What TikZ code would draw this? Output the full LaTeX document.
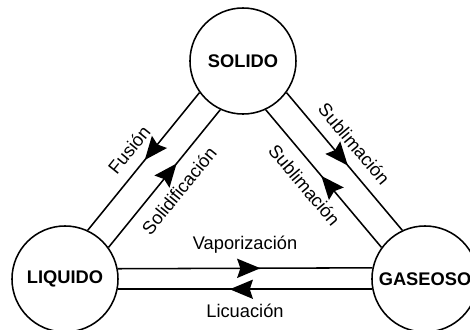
\documentclass[tikz,border=0pt]{standalone}
\usepackage{fontspec}
\setmainfont{Liberation Sans}
\usetikzlibrary{arrows.meta,decorations.markings}

\tikzset{
  estado/.style={draw, circle, line width=1.1pt, minimum size=2.65cm, inner sep=0pt,
    font=\fontsize{13}{15}\selectfont\bfseries},
  paso/.style={line width=1.1pt},
  flecha/.style={postaction={decorate}, decoration={markings,
    mark=at position #1 with {\arrow{Stealth[length=0.58cm,width=0.48cm,inset=0.08cm]}}}},
  rotulo/.style={font=\fontsize{13}{15}\selectfont, sloped, inner sep=1pt}
}

\begin{document}
\begin{tikzpicture}[x=0.025cm, y=-0.025cm]
  \useasboundingbox (0,0) rectangle (470,330);
  \node[estado] (solido) at (243,61) {SOLIDO};
  \node[estado] (liquido) at (65,279) {LIQUIDO};
  \node[estado] (gaseoso) at (425,279) {GASEOSO};
  % solido y liquido
  \draw[paso, flecha=0.49] (solido.216) -- node[rotulo, above=7pt]{Fusión} (liquido.65.6);
  \draw[paso, flecha=0.61] (liquido.36) -- node[rotulo, below=7pt]{Solidificación} (solido.245.6);
  % solido y gaseoso
  \draw[paso, flecha=0.53] (solido.324.1) -- node[rotulo, above=7pt, pos=0.46]{Sublimación} (gaseoso.115.7);
  \draw[paso, flecha=0.52] (gaseoso.144.1) -- node[rotulo, below=7pt, pos=0.54]{Sublimación} (solido.295.7);
  % liquido y gaseoso
  \draw[paso, flecha=0.56] (liquido.11.4) -- node[rotulo, above=9pt]{Vaporización} (gaseoso.168.6);
  \draw[paso, flecha=0.56] (gaseoso.191.4) -- node[rotulo, below=9pt]{Licuación} (liquido.-11.4);
\end{tikzpicture}
\end{document}
